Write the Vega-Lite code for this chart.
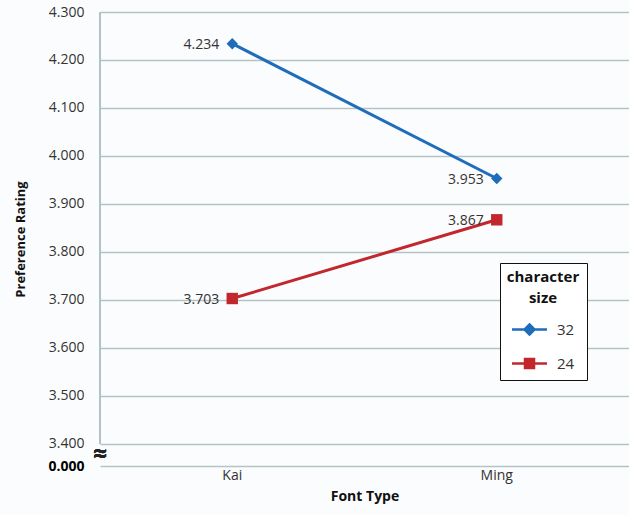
{
  "$schema": "https://vega.github.io/schema/vega-lite/v6.json",
  "autosize": "none",
  "width": 529,
  "height": 454,
  "padding": {"left": 100, "top": 12, "right": 0, "bottom": 49},
  "background": "#fbfcfd",
  "config": {
    "view": {"stroke": null},
    "font": "Open Sans",
    "axis": {"labelFont": "Open Sans", "titleFont": "Open Sans", "labelColor": "#333", "titleColor": "#111"}
  },
  "data": {
    "values": [
      {"font": "Kai", "size": "32", "rating": 4.234},
      {"font": "Ming", "size": "32", "rating": 3.953},
      {"font": "Kai", "size": "24", "rating": 3.703},
      {"font": "Ming", "size": "24", "rating": 3.867}
    ]
  },
  "encoding": {
    "x": {"field": "font", "type": "nominal", "scale": {"type": "band", "domain": ["Kai", "Ming"]},
      "axis": {"title": "Font Type", "labelAngle": 0, "domain": false, "ticks": false, "labelFontSize": 14, "labelPadding": 2, "titleFontSize": 14, "titleFontWeight": "bold", "titlePadding": 7}},
    "y": {"field": "rating", "type": "quantitative", "scale": {"domain": [3.354, 4.3], "nice": false, "zero": false},
      "axis": {"title": "Preference Rating", "values": [3.354, 3.4, 3.5, 3.6, 3.7, 3.8, 3.9, 4.0, 4.1, 4.2, 4.3],
        "labelExpr": "datum.value < 3.39 ? '0.000' : format(datum.value, '.3f')",
        "labelFontWeight": {"condition": {"test": "datum.value < 3.39", "value": "bold"}, "value": "normal"},
        "labelColor": {"condition": {"test": "datum.value < 3.39", "value": "#000"}, "value": "#333"},
        "domain": false, "ticks": false, "grid": true, "gridColor": "#b4c2c7", "gridWidth": 1.5,
        "labelFontSize": 14, "labelPadding": 16, "titleFontSize": 13, "titleFontWeight": "bold", "titlePadding": 20}},
    "color": {"field": "size", "type": "nominal", "scale": {"domain": ["32", "24"], "range": ["#1f6dba", "#c1272d"]}}
  },
  "layer": [
    {
      "mark": {"type": "rule", "color": "#b4c2c7", "strokeWidth": 1.5},
      "encoding": {"x": {"datum": "Kai", "bandPosition": 0}, "y": {"datum": 3.4}, "y2": {"datum": 4.3}, "color": {"value": "#b4c2c7"}}
    },
    {
      "mark": {"type": "text", "text": "≈", "fontSize": 24, "fontWeight": "bold", "color": "#222"},
      "encoding": {"x": {"datum": "Kai", "bandPosition": 0}, "y": {"datum": 3.377}, "color": {"value": "#222"}}
    },
    {
      "mark": {"type": "line", "strokeWidth": 3},
      "encoding": {
        "color": {"field": "size", "type": "nominal",
          "legend": {"orient": "none", "legendX": 400, "legendY": 251, "title": ["character", "size"],
            "titleFontSize": 15, "titleFontWeight": "bold", "titleColor": "#111", "titleAnchor": "middle", "titleAlign": "center",
            "titlePadding": 12, "titleLineHeight": 21, "strokeColor": "#111", "fillColor": "#ffffff", "padding": 7,
            "labelFontSize": 15, "labelColor": "#333", "labelOffset": 16, "symbolOffset": 6, "symbolSize": 400, "rowPadding": 12,
            "symbolType": "M-1.75,0L1.75,0",
            "encode": {"symbols": {"update": {
              "shape": {"signal": "datum.value === '32' ? 'M-1.75,0L1.75,0M0,-0.5L0.5,0L0,0.5L-0.5,0Z' : 'M-1.75,0L1.75,0M-0.45,-0.45L0.45,-0.45L0.45,0.45L-0.45,0.45Z'"},
              "fill": {"scale": "color", "field": "value"},
              "stroke": {"scale": "color", "field": "value"},
              "strokeWidth": {"value": 2.5},
              "opacity": {"value": 1}
            }}}
          }}
      }
    },
    {
      "transform": [{"filter": "datum.size === '32'"}],
      "mark": {"type": "point", "filled": true, "size": 130, "opacity": 1, "shape": "diamond"}
    },
    {
      "transform": [{"filter": "datum.size === '24'"}],
      "mark": {"type": "point", "filled": true, "size": 130, "opacity": 1, "shape": "square"}
    },
    {
      "mark": {"type": "text", "align": "right", "baseline": "middle", "dx": -13, "dy": 1, "fontSize": 14, "color": "#333"},
      "encoding": {"text": {"field": "rating", "type": "quantitative", "format": ".3f"}, "color": {"value": "#333"}}
    }
  ]
}
